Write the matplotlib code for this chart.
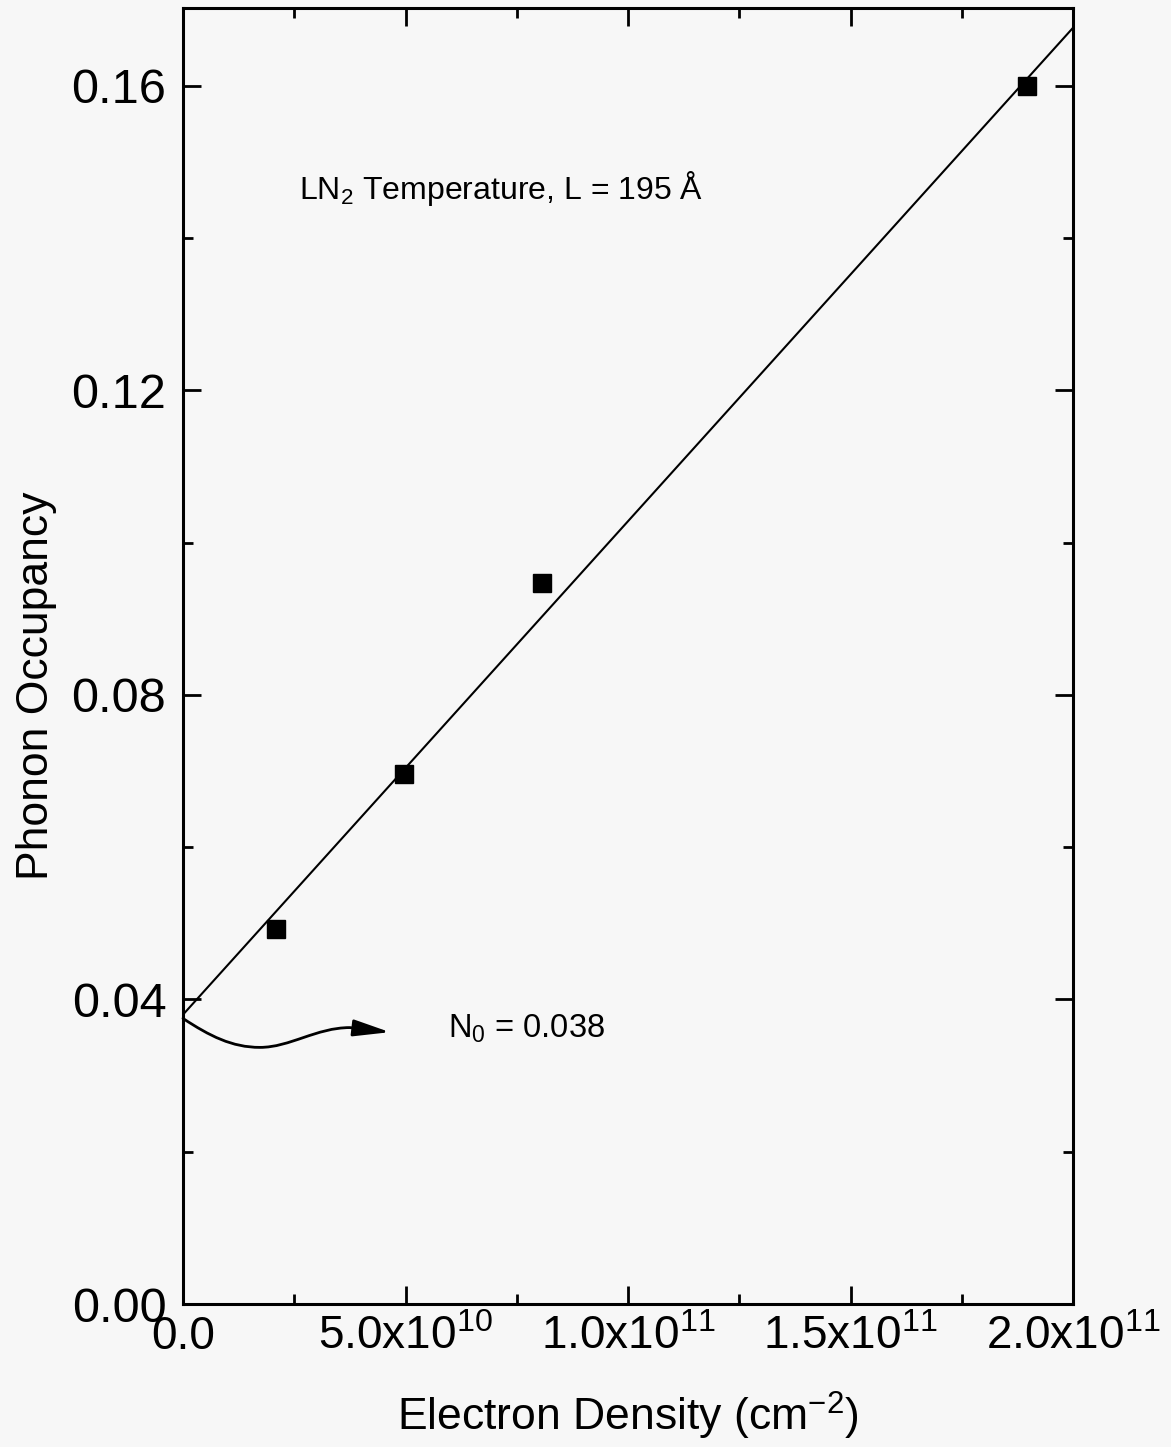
import matplotlib
matplotlib.use("Agg")
import matplotlib.pyplot as plt
from matplotlib.path import Path
from matplotlib.patches import FancyArrowPatch
from matplotlib.ticker import MultipleLocator, FixedLocator, FixedFormatter
import numpy as np

# Measured phonon occupancy vs. 2D electron density (LN2, L = 195 Å)
density = [2.1e10, 4.97e10, 8.07e10, 1.897e11]
occupancy = [0.0493, 0.0696, 0.0947, 0.160]

# Linear fit: N = N0 + slope * n
fit_intercept = 0.038
fit_slope = 6.48e-13

x_ticks = [0.0, 5.0e10, 1.0e11, 1.5e11, 2.0e11]
x_tick_labels = ["0.0", "5.0x10$^{10}$", "1.0x10$^{11}$", "1.5x10$^{11}$", "2.0x10$^{11}$"]
y_ticks = [0.00, 0.04, 0.08, 0.12, 0.16]
y_tick_labels = ["0.00", "0.04", "0.08", "0.12", "0.16"]

plt.rcParams["font.family"] = ["Liberation Sans", "DejaVu Sans"]
plt.rcParams["mathtext.default"] = "regular"
plt.rcParams["mathtext.fontset"] = "custom"
plt.rcParams["mathtext.rm"] = "Liberation Sans"

bg = "#f7f7f7"
fig = plt.figure(figsize=(11.71, 14.47), dpi=100, facecolor=bg)
ax = fig.add_axes([183 / 1171, 1 - 1304 / 1447, (1073 - 183) / 1171, (1304 - 8) / 1447])
ax.set_facecolor(bg)

ax.set_xlim(0, 2.0e11)
ax.set_ylim(0, 0.1702)

# fit line across the full range
xf = np.array([0.0, 2.0e11])
ax.plot(xf, fit_intercept + fit_slope * xf, color="black", lw=1.5, zorder=2)

# data points
ax.plot(density, occupancy, "s", color="black", markersize=13, zorder=3)

# axes styling
for sp in ax.spines.values():
    sp.set_linewidth(2.2)
ax.xaxis.set_major_locator(FixedLocator(x_ticks))
ax.xaxis.set_major_formatter(FixedFormatter(x_tick_labels))
ax.xaxis.set_minor_locator(MultipleLocator(2.5e10))
ax.yaxis.set_major_locator(FixedLocator(y_ticks))
ax.yaxis.set_major_formatter(FixedFormatter(y_tick_labels))
ax.yaxis.set_minor_locator(MultipleLocator(0.02))
ax.tick_params(which="both", direction="in", top=True, right=True, width=2.0)
ax.tick_params(which="major", length=13)
ax.tick_params(which="minor", length=7)
ax.tick_params(axis="y", which="major", labelsize=35, pad=12)
ax.tick_params(axis="x", which="major", labelsize=33, pad=8)

ax.set_ylabel("Phonon Occupancy", fontsize=32)
ax.yaxis.set_label_coords(-0.142, 0.477)
ax.set_xlabel("Electron Density (cm$^{-2}$)", fontsize=32, labelpad=22)

# annotations
ax.text(2.6e10, 0.1465, "LN$_2$ Temperature, L = 195 Å", fontsize=23, va="center", ha="left")
ax.text(5.95e10, 0.0362, "N$_0$ = 0.038", fontsize=23.5, va="center", ha="left")

# curved arrow from the intercept to the label
verts = [
    (0.0, 0.0375), (0.6e10, 0.0352), (1.1e10, 0.0337), (1.73e10, 0.0337),
    (2.4e10, 0.0337), (3.0e10, 0.0363), (3.75e10, 0.0363),
    (4.65e10, 0.0357),
]
codes = [Path.MOVETO, Path.CURVE4, Path.CURVE4, Path.CURVE4,
         Path.CURVE4, Path.CURVE4, Path.CURVE4, Path.LINETO]
arrow = FancyArrowPatch(path=Path(verts, codes), arrowstyle="-|>,head_length=1.4,head_width=0.32",
                        mutation_scale=16, color="black", lw=2.0, clip_on=False)
ax.add_patch(arrow)

fig.savefig("out.png", dpi=100, facecolor=bg)
